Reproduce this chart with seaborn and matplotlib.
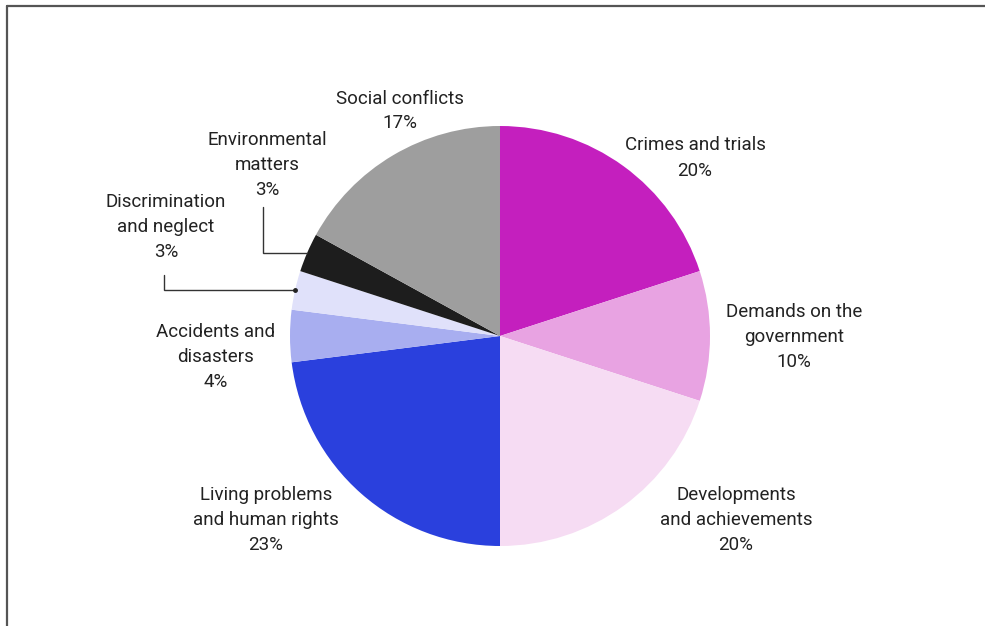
import numpy as np
import matplotlib
matplotlib.use("Agg")
import matplotlib.pyplot as plt
from matplotlib.lines import Line2D
import seaborn as sns

# Share of news topics (percent), clockwise from 12 o'clock
topics = [
    "Crimes and trials",
    "Demands on the\ngovernment",
    "Developments\nand achievements",
    "Living problems\nand human rights",
    "Accidents and\ndisasters",
    "Discrimination\nand neglect",
    "Environmental\nmatters",
    "Social conflicts",
]
shares = [20, 10, 20, 23, 4, 3, 3, 17]
colors = ["#C41FBE", "#E8A3E2", "#F6DCF3", "#2A40DD",
          "#A8AEF0", "#E0E1FA", "#1D1D1D", "#9E9E9E"]

# Label anchor (pixel, y down) for each topic
label_pos = [
    (695, 158), (794, 337), (736, 520), (266, 520),
    (216, 357), (166, 227), (267, 165), (400, 111),
]
# Leader line elbows (pixel, y down) for small slices
leaders = {5: (164, 275), 6: (263, 207)}

sns.set_theme(style="white")
plt.rcParams["font.family"] = ["Roboto", "DejaVu Sans"]

W, H = 985, 626
fig = plt.figure(figsize=(W / 100, H / 100), dpi=100)
ax = fig.add_axes([0, 0, 1, 1])

cx, cy, r = 500, H - 336, 210
wedges, _ = ax.pie(shares, colors=colors, startangle=90, counterclock=False,
                   center=(cx, cy), radius=r, frame=True,
                   wedgeprops=dict(linewidth=0))
ax.set_xlim(0, W)
ax.set_ylim(0, H)
ax.set_aspect("equal")
ax.axis("off")

txt_color = "#222222"
for i, (name, val) in enumerate(zip(topics, shares)):
    x, y = label_pos[i]
    ax.text(x, H - y, f"{name}\n{val}%", ha="center", va="center",
            fontsize=13.5, color=txt_color, linespacing=1.5)

for i, (ex, ey) in leaders.items():
    w = wedges[i]
    mid = np.deg2rad((w.theta1 + w.theta2) / 2)
    px, py = cx + r * np.cos(mid), cy + r * np.sin(mid)
    ax.plot([ex, ex, px], [H - ey, py, py], color="#333333", lw=1.0,
            solid_joinstyle="miter")
    if i == 5:
        ax.plot([px], [py], "o", color="#222222", ms=2.5)

# Thin frame along the top and left edges
fig.add_artist(Line2D([7 / W, 1], [1 - 6 / H, 1 - 6 / H], color="#555555",
                      lw=1.6, transform=fig.transFigure))
fig.add_artist(Line2D([7 / W, 7 / W], [0, 1 - 6 / H], color="#555555",
                      lw=1.6, transform=fig.transFigure))

fig.savefig("out.png", dpi=100)
